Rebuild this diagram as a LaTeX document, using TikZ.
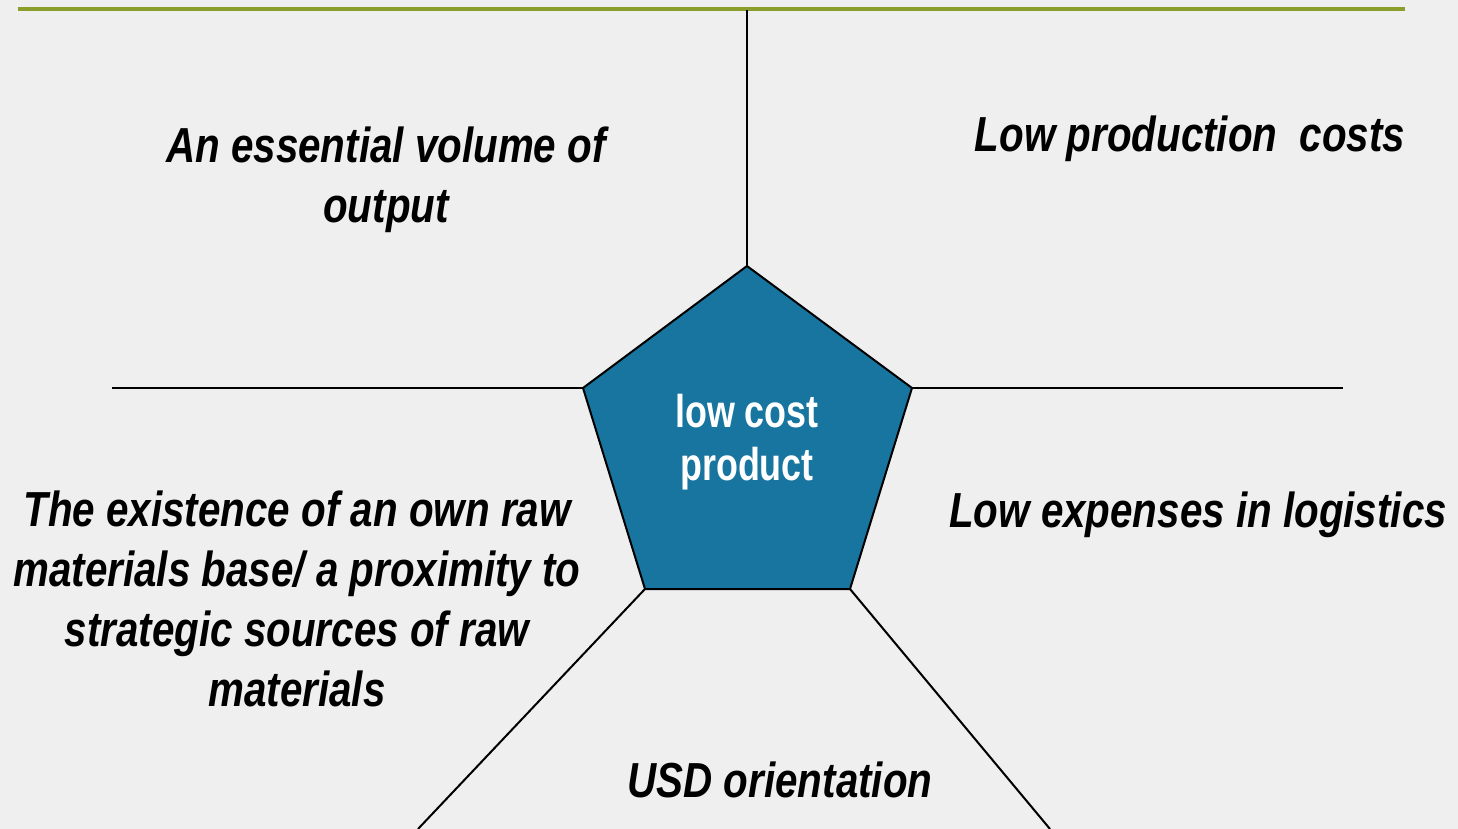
\documentclass[tikz,border=0pt]{standalone}
\usepackage{fontspec}
\newfontfamily\lblfont[FakeStretch=0.82]{Liberation Sans}
\newfontfamily\ctrfont[FakeStretch=0.78]{Liberation Sans}
\definecolor{bgc}{HTML}{EFEFEF}
\definecolor{pentc}{HTML}{17759F}
\definecolor{topgreen}{HTML}{8A9E2C}
\tikzset{
  lbl/.style={font=\lblfont\bfseries\itshape\fontsize{24.6pt}{30pt}\selectfont, align=center, inner sep=0pt, anchor=base},
  ctr/.style={font=\ctrfont\bfseries\fontsize{23pt}{26.5pt}\selectfont, text=white, align=center, inner sep=0pt, anchor=base},
  spoke/.style={line width=1pt, black},
}
\begin{document}
\begin{tikzpicture}[x=0.5pt,y=-0.5pt]
\useasboundingbox (0,0) rectangle (1458,829);
\fill[bgc] (0,0) rectangle (1458,829);
\coordinate (gl) at (18,9);
\coordinate (gr) at (1405,9);
\draw[topgreen, line width=1.6pt] (gl) -- (gr);
% pentagon corners
\coordinate (pt) at (747,266);
\coordinate (pr) at (912,388);
\coordinate (pbr) at (850,589);
\coordinate (pbl) at (645,589);
\coordinate (pl) at (583,388);
% spoke ends
\coordinate (et) at (747,10);
\coordinate (el) at (112,388);
\coordinate (er) at (1343,388);
\coordinate (ebl) at (418,829);
\coordinate (ebr) at (1050,829);
\draw[spoke] (pt) -- (et);
\draw[spoke] (pl) -- (el);
\draw[spoke] (pr) -- (er);
\draw[spoke] (pbl) -- (ebl);
\draw[spoke] (pbr) -- (ebr);
\draw[fill=pentc, line width=1pt, line join=miter] (pt) -- (pr) -- (pbr) -- (pbl) -- (pl) -- cycle;
\node[ctr] (c) at (747,480) {low cost\\product};
\node[lbl] (a) at (386,222) {An essential volume of\\output};
\node[lbl] (b) at (1190,152) {Low production\ \ costs};
\node[lbl] (d) at (297,706) {The existence of an own raw\\materials base/ a proximity to\\strategic sources of raw\\materials};
\node[lbl] (e) at (1198,527) {Low expenses in logistics};
\node[lbl] (f) at (780,797) {USD orientation};
\end{tikzpicture}
\end{document}
